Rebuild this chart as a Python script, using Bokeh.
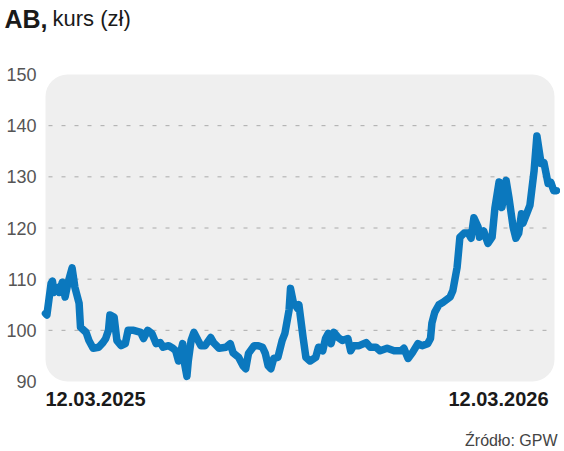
from bokeh.plotting import figure
from bokeh.models import BoxAnnotation, Label, Range1d
from bokeh.core.properties import value
from bokeh.embed import file_html
from bokeh.resources import INLINE

# days since 12.03.2025
days = [0, 1, 4, 5, 6, 9, 10, 12, 14, 16, 19, 21, 24, 25, 29, 31, 34, 38, 41, 43,
        45, 46, 49, 51, 54, 57, 59, 63, 68, 70, 73, 76, 79, 82, 84, 88, 91, 93, 95, 98,
        99, 101, 102, 104, 106, 109, 111, 114, 118, 120, 124, 129, 132, 134, 138, 141, 143, 145, 149, 152,
        155, 157, 159, 161, 163, 166, 169, 171, 174, 175, 177, 180, 181, 184, 186, 189, 193, 195, 198, 200,
        202, 204, 206, 209, 212, 216, 218, 220, 224, 229, 232, 236, 239, 244, 249, 254, 256, 259, 262, 266,
        269, 273, 275, 276, 278, 281, 284, 289, 291, 294, 296, 299, 302, 304, 306, 309, 310, 313, 316, 319,
        321, 324, 326, 329, 331, 334, 336, 338, 340, 341, 344, 346, 349, 351, 354, 356, 359, 361, 363, 365]
kurs = [103.3, 103.0, 109.2, 109.6, 107.4, 108.4, 107.4, 109.4, 106.5, 109.2, 112.2, 108.4, 105.3, 100.6, 99.6, 98.0, 96.5, 96.7, 97.6, 98.4,
        100.0, 103.0, 102.6, 98.0, 97.0, 97.4, 100.0, 100.0, 99.6, 98.4, 100.0, 99.4, 97.4, 97.6, 96.7, 97.0, 96.5, 96.0, 94.0, 97.4,
        94.0, 91.0, 94.0, 98.0, 99.6, 98.0, 97.0, 97.0, 98.6, 97.6, 96.5, 96.7, 97.4, 95.6, 94.7, 93.1, 92.5, 95.5, 97.0, 97.0,
        96.7, 95.5, 93.1, 92.5, 94.5, 94.7, 98.0, 99.4, 104.0, 108.2, 105.5, 104.3, 105.0, 98.6, 94.7, 94.0, 94.7, 96.7, 96.0, 98.4,
        99.4, 97.4, 99.6, 98.6, 98.0, 98.4, 96.0, 97.0, 97.0, 97.6, 96.7, 96.7, 96.0, 96.5, 96.0, 96.0, 96.5, 94.5, 95.6, 97.4,
        97.0, 97.4, 98.4, 101.4, 103.5, 105.0, 105.5, 106.5, 107.8, 112.3, 118.2, 119.0, 119.0, 118.0, 122.0, 120.2, 118.2, 119.4, 117.0, 118.2,
        123.9, 129.0, 124.0, 129.3, 126.0, 120.2, 118.0, 119.0, 122.8, 120.9, 123.0, 124.4, 131.2, 138.0, 132.6, 132.8, 128.7, 128.9, 127.3, 127.3]

y_ticks = [90, 100, 110, 120, 130, 140, 150]
y_tick_labels = ["90", "100", "110", "120", "130", "140", "150"]
grid_ticks = [100, 110, 120, 130, 140]
x_labels = ["12.03.2025", "12.03.2026"]
x_first, x_last = 0, 365
y_min, y_max = 90, 150

# ---- layout (pixels) ----
W, H = 560, 451
PL, PR, PT, PB = 45, 556, 74, 381   # plot box in canvas pixels

dx = (x_last - x_first) / (PR - PL)
dy = (y_max - y_min) / (PB - PT)
xr = Range1d(x_first - PL * dx, x_last + (W - PR) * dx)
yr = Range1d(y_min - (H - PB) * dy, y_max + PT * dy)

p = figure(width=W, height=H, output_backend="svg", toolbar_location=None,
           x_range=xr, y_range=yr, x_axis_location=None, y_axis_location=None,
           min_border=0)
p.outline_line_color = None
p.background_fill_color = "white"
p.border_fill_color = "white"
p.xgrid.visible = False
p.ygrid.visible = False

p.add_layout(BoxAnnotation(left=x_first, right=x_last - 2 * dx, bottom=y_min, top=y_max,
                           fill_color="#efefef", fill_alpha=1.0, line_color=None,
                           border_radius=22, level="image"))

# dashed grid lines
p.segment(x0=[x_first + 3 * dx] * len(grid_ticks), x1=[x_last - 2 * dx] * len(grid_ticks),
          y0=grid_ticks, y1=grid_ticks, line_color="#aaaaaa", line_width=1, line_dash="4 9")

# y tick labels
p.text(x=[x_first] * len(y_ticks), y=y_ticks, text=y_tick_labels, x_offset=-9,
       text_align="right", text_baseline="middle", text_font=value("Liberation Sans"),
       text_font_size="18px", text_color="#555555")

p.line(days, kurs, line_color="#0b78be", line_width=7.5, line_join="round", line_cap="round")

def lab(x, y, text, align, size, xo=0, yo=0, bold=False, color="#1a1a1a"):
    p.add_layout(Label(x=x, y=y, x_offset=xo, y_offset=yo, text=text,
                       text_align=align, text_baseline="middle",
                       text_font="Liberation Sans",
                       text_font_style="bold" if bold else "normal",
                       text_font_size=size, text_color=color))

lab(x_first, y_min, x_labels[0], "left", "20px", yo=-17, bold=True)
lab(x_last, y_min, x_labels[1], "right", "20px", xo=-8, yo=-17, bold=True)
lab(x_first, y_max, "AB,", "left", "25px", xo=-41, yo=56, bold=True)
lab(x_first, y_max, "kurs (zł)", "left", "22px", xo=7, yo=56)
lab(x_last, y_min, "Źródło: GPW", "right", "16px", xo=1, yo=-59, color="#444444")

open("out.html", "w").write(file_html(p, INLINE))
